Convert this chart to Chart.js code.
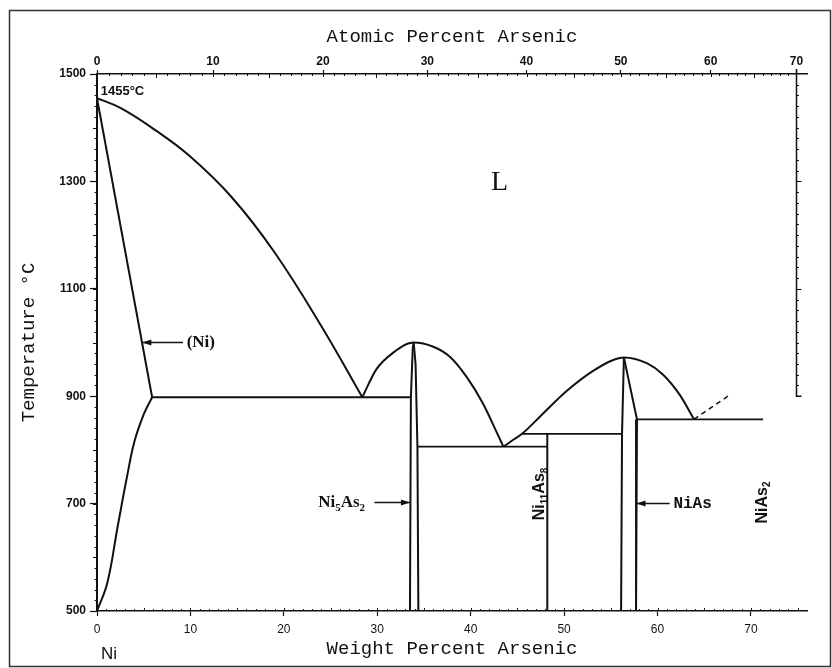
<!DOCTYPE html>
<html>
<head>
<meta charset="utf-8">
<title>Ni-As</title>
<script src="https://cdn.jsdelivr.net/npm/chart.js@4.4.1/dist/chart.umd.min.js"></script>
<style>
  html, body { margin: 0; padding: 0; background: #fff; }
</style>
</head>
<body>
<canvas id="phaseChart" width="832" height="668"></canvas>
<script>
// Tick labels
const weightTicks = [0, 10, 20, 30, 40, 50, 60, 70];
const atomicTicks = [0, 10, 20, 30, 40, 50, 60, 70];
const tempTicks = [500, 700, 900, 1100, 1300, 1500];

// Phase boundaries, [wt% As, °C]
const liquidusNi = [[0, 1455], [2.6, 1436], [6.2, 1396], [9.8, 1349], [14.4, 1271], [19, 1168], [24.1, 1028], [28.4, 898]];
const solidusNi = [[0, 1455], [5.9, 898]];
const solvusNi = [[0, 500], [1.1, 552], [2.2, 656], [3.2, 749], [4.0, 815], [5.0, 866], [5.9, 898]];
const eutectic898 = [[5.9, 898], [33.6, 898]];
const liquidusNi5As2 = [[28.4, 898], [29.9, 950], [31.7, 981], [33.9, 1000], [36.0, 992], [37.8, 973], [39.6, 935], [41.3, 887], [42.7, 836], [43.5, 806]];
const ni5As2Left = [[33.5, 500], [33.6, 898], [33.8, 990], [33.9, 1000]];
const ni5As2Right = [[33.9, 1000], [34.1, 960], [34.3, 806], [34.4, 500]];
const eutectic806 = [[34.3, 806], [48.2, 806]];
const peritectic830 = [[45.5, 830], [56.2, 830]];
const ni11As8Line = [[48.2, 830], [48.2, 500]];
const liquidusNiAs = [[43.5, 806], [44.4, 817], [45.5, 830], [47.7, 867], [50.3, 910], [53.1, 947], [55.2, 967], [56.4, 972], [58.9, 961], [60.6, 940], [62.4, 902], [63.9, 857]];
const niAsLeft = [[56.1, 500], [56.2, 830], [56.4, 972]];
const niAsRight = [[56.4, 972], [57.8, 857], [57.7, 500]];
const eutectic857 = [[57.8, 857], [71.3, 857]];
const liquidusDashed = [[63.9, 857], [67.7, 902]];

// atomic % -> weight % (Ni 58.69, As 74.92)
function atToWt(a) {
    return 100 * a * 74.92 / (a * 74.92 + (100 - a) * 58.69);
}

function line(points, extra) {
    return Object.assign({
        data: points.map(p => ({ x: p[0], y: p[1] })),
        showLine: true,
        borderColor: '#111',
        borderWidth: 2,
        pointRadius: 0,
        fill: false,
        tension: 0
    }, extra || {});
}

const smooth = { cubicInterpolationMode: 'monotone' };
const bent = { tension: 0.4 };

// labels and arrows inside the plot
const labelItems = [
    { parts: [['1455°C', 0]], at: [0.4, 1468], font: ['bold', 13, '"Liberation Sans"'], align: 'left' },
    { parts: [['L', 0]], at: [43.1, 1298], font: ['normal', 28, '"Liberation Serif"'], align: 'center' },
    { parts: [['(Ni)', 0]], at: [9.6, 1000], font: ['bold', 17, '"Liberation Serif"'], align: 'left' },
    { parts: [['Ni', 0], ['5', 1], ['As', 0], ['2', 1]], at: [28.7, 702], font: ['bold', 17, '"Liberation Serif"'], align: 'right' },
    { parts: [['Ni', 0], ['11', 1], ['As', 0], ['8', 1]], at: [47.4, 718], font: ['bold', 16, '"Liberation Sans"'], align: 'center', rotate: true },
    { parts: [['NiAs', 0]], at: [61.7, 700], font: ['bold', 16, '"Liberation Mono"'], align: 'left' },
    { parts: [['NiAs', 0], ['2', 1]], at: [71.2, 702], font: ['bold', 16, '"Liberation Sans"'], align: 'center', rotate: true }
];
const arrowItems = [
    { from: [9.2, 1000], to: [4.85, 1000] },
    { from: [29.7, 702], to: [33.5, 702] },
    { from: [61.3, 700], to: [57.75, 700] }
];

function drawRich(ctx, item, px, py) {
    const [weight, size, family] = item.font;
    const subSize = Math.round(size * 0.65);
    let width = 0;
    item.parts.forEach(p => {
        ctx.font = weight + ' ' + (p[1] ? subSize : size) + 'px ' + family;
        width += ctx.measureText(p[0]).width;
    });
    ctx.save();
    ctx.translate(px, py);
    if (item.rotate) ctx.rotate(-Math.PI / 2);
    let x = item.align === 'left' ? 0 : item.align === 'right' ? -width : -width / 2;
    ctx.textBaseline = 'middle';
    ctx.textAlign = 'left';
    item.parts.forEach(p => {
        ctx.font = weight + ' ' + (p[1] ? subSize : size) + 'px ' + family;
        ctx.fillText(p[0], x, p[1] ? size * 0.32 : 0);
        x += ctx.measureText(p[0]).width;
    });
    ctx.restore();
}

const decorPlugin = {
    id: 'decor',
    afterDraw(chart) {
        const { ctx, chartArea: area, scales: { x, y } } = chart;
        ctx.save();
        ctx.strokeStyle = '#111';
        ctx.fillStyle = '#111';

        // minor ticks
        ctx.lineWidth = 1;
        ctx.beginPath();
        for (let t = 520; t < 1500; t += 20) {
            const py = Math.round(y.getPixelForValue(t)) + 0.5;
            const len = t % 100 === 0 ? 4 : 2.5;
            ctx.moveTo(area.left - len, py);
            ctx.lineTo(area.left, py);
        }
        for (let w = 1; w < 76; w++) {
            const px = Math.round(x.getPixelForValue(w)) + 0.5;
            const len = w % 5 === 0 ? 3 : 2;
            ctx.moveTo(px, area.bottom);
            ctx.lineTo(px, area.bottom - len);
        }
        for (let a = 1; a < 70; a++) {
            const px = Math.round(x.getPixelForValue(atToWt(a))) + 0.5;
            const len = a % 10 === 0 ? 3 : a % 5 === 0 ? 4 : 2;
            ctx.moveTo(px, area.top);
            ctx.lineTo(px, area.top + len);
        }
        ctx.stroke();

        // partial right axis at 70 at.%
        const rx = Math.round(x.getPixelForValue(atToWt(70))) + 0.5;
        const yTop = y.getPixelForValue(1500);
        const yEnd = y.getPixelForValue(900);
        ctx.lineWidth = 1.5;
        ctx.beginPath();
        ctx.moveTo(rx, yTop - 5);
        ctx.lineTo(rx, yEnd);
        ctx.lineTo(rx + 5, yEnd);
        ctx.stroke();
        ctx.lineWidth = 1;
        ctx.beginPath();
        for (let t = 920; t < 1500; t += 20) {
            const py = Math.round(y.getPixelForValue(t)) + 0.5;
            const len = t % 200 === 100 ? 5 : 2.5;
            ctx.moveTo(rx, py);
            ctx.lineTo(rx + len, py);
        }
        ctx.stroke();

        // arrows
        ctx.lineWidth = 1.5;
        arrowItems.forEach(a => {
            const x1 = x.getPixelForValue(a.from[0]), y1 = y.getPixelForValue(a.from[1]);
            const x2 = x.getPixelForValue(a.to[0]), y2 = y.getPixelForValue(a.to[1]);
            const dir = Math.sign(x2 - x1);
            ctx.beginPath();
            ctx.moveTo(x1, y1);
            ctx.lineTo(x2, y2);
            ctx.stroke();
            ctx.beginPath();
            ctx.moveTo(x2, y2);
            ctx.lineTo(x2 - dir * 9, y2 - 3);
            ctx.lineTo(x2 - dir * 9, y2 + 3);
            ctx.closePath();
            ctx.fill();
        });

        // text labels
        labelItems.forEach(item => {
            drawRich(ctx, item, x.getPixelForValue(item.at[0]), y.getPixelForValue(item.at[1]));
        });
        drawRich(ctx, { parts: [['Ni', 0]], font: ['normal', 17, '"Liberation Sans"'], align: 'left' },
            x.getPixelForValue(0) + 4, area.bottom + 43);

        // frame
        ctx.strokeStyle = '#333';
        ctx.lineWidth = 1.5;
        ctx.strokeRect(9.5, 10.5, 821, 656);
        ctx.restore();
    }
};

document.addEventListener('DOMContentLoaded', function() {
    const chartCtx = document.getElementById('phaseChart').getContext('2d');
    new Chart(chartCtx, {
        type: 'scatter',
        data: {
            datasets: [
                line(liquidusNi, bent),
                line(solidusNi),
                line(solvusNi, bent),
                line(eutectic898, { borderWidth: 1.8 }),
                line(liquidusNi5As2, smooth),
                line(ni5As2Left),
                line(ni5As2Right),
                line(eutectic806, { borderWidth: 1.8 }),
                line(peritectic830, { borderWidth: 1.8 }),
                line(ni11As8Line),
                line(liquidusNiAs, smooth),
                line(niAsLeft),
                line(niAsRight),
                line(eutectic857, { borderWidth: 1.8 }),
                line(liquidusDashed, { borderDash: [5, 4], borderWidth: 1.5 })
            ]
        },
        options: {
            responsive: false,
            animation: false,
            layout: { padding: { left: 0, top: 0, right: 25, bottom: 0 } },
            plugins: {
                legend: { display: false },
                tooltip: { enabled: false }
            },
            scales: {
                x: {
                    type: 'linear',
                    position: 'bottom',
                    min: 0,
                    max: 76,
                    afterBuildTicks: s => { s.ticks = weightTicks.map(v => ({ value: v })); },
                    afterFit: s => { s.height = 57; },
                    border: { color: '#111', width: 1.5 },
                    grid: { drawOnChartArea: false, tickLength: 5, tickColor: '#111', tickWidth: 1.2 },
                    ticks: { color: '#111', padding: 6, font: { family: '"Liberation Sans"', size: 12 }, callback: v => String(v) },
                    title: {
                        display: true,
                        text: 'Weight Percent Arsenic',
                        color: '#111',
                        font: { family: '"Liberation Mono"', size: 19 },
                        padding: { top: 0, bottom: 8 }
                    }
                },
                x2: {
                    type: 'linear',
                    axis: 'x',
                    position: 'top',
                    min: 0,
                    max: 76,
                    afterBuildTicks: s => { s.ticks = atomicTicks.map(a => ({ value: atToWt(a) })); },
                    afterFit: s => { s.height = 74; },
                    border: { color: '#111', width: 1.5 },
                    grid: { drawOnChartArea: false, tickLength: 4, tickColor: '#111', tickWidth: 1.2 },
                    ticks: {
                        color: '#111',
                        padding: 1,
                        font: { family: '"Liberation Sans"', size: 12, weight: 'bold' },
                        callback: (v, i) => String(atomicTicks[i])
                    },
                    title: {
                        display: true,
                        text: 'Atomic Percent Arsenic',
                        color: '#111',
                        font: { family: '"Liberation Mono"', size: 19 },
                        padding: { top: 26, bottom: 0 }
                    }
                },
                y: {
                    type: 'linear',
                    position: 'left',
                    min: 500,
                    max: 1500,
                    afterBuildTicks: s => { s.ticks = tempTicks.map(v => ({ value: v })); },
                    afterFit: s => { s.width = 97; },
                    border: { color: '#111', width: 2 },
                    grid: { drawOnChartArea: false, tickLength: 7, tickColor: '#111', tickWidth: 1.2 },
                    ticks: { color: '#111', padding: 4, font: { family: '"Liberation Sans"', size: 12, weight: 'bold' }, callback: v => String(v) },
                    title: {
                        display: true,
                        text: 'Temperature °C',
                        color: '#111',
                        font: { family: '"Liberation Mono"', size: 19 },
                        padding: { top: 18, bottom: 0 }
                    }
                }
            }
        },
        plugins: [decorPlugin]
    });
});
</script>
</body>
</html>
